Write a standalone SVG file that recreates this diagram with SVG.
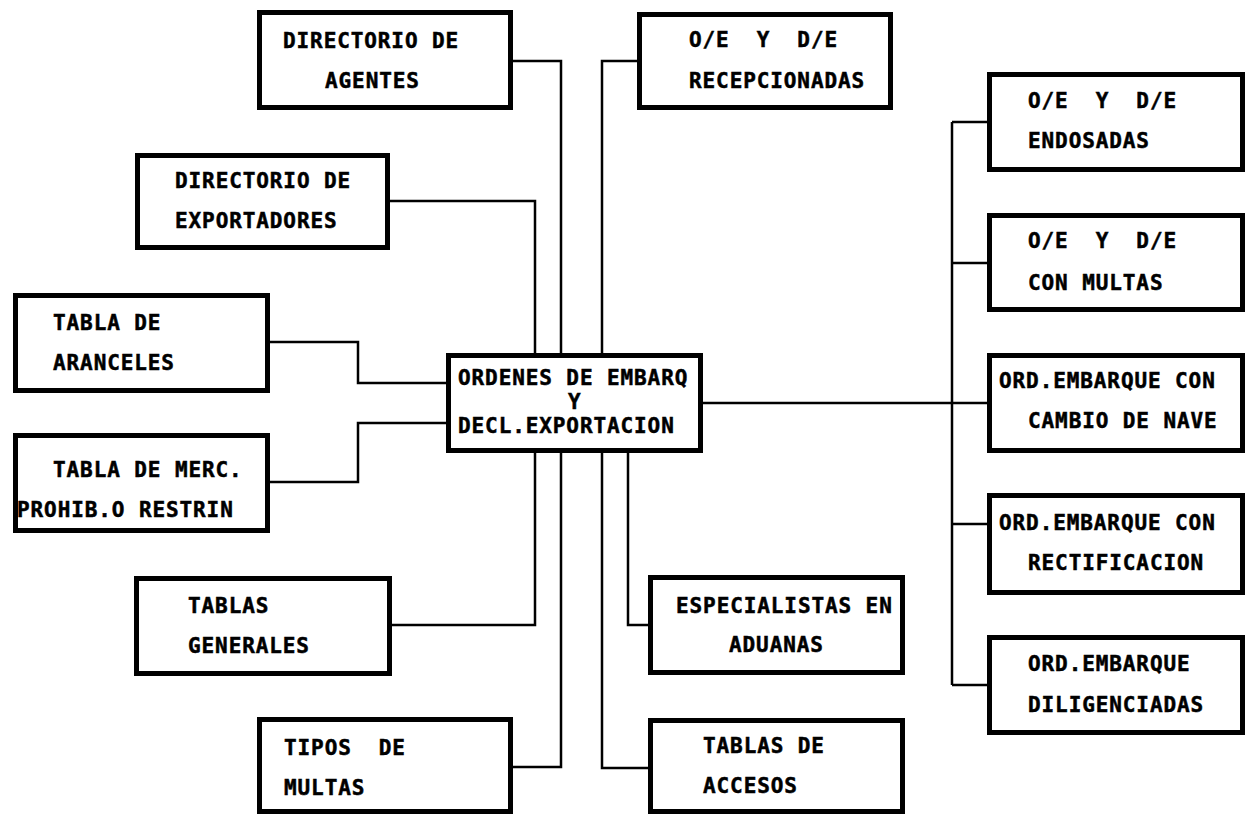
<svg xmlns="http://www.w3.org/2000/svg" width="1253" height="816" viewBox="0 0 1253 816">
<style>
.box{fill:#fff;stroke:#000;stroke-width:5}
.t{font-family:"DejaVu Sans Mono","Liberation Mono",monospace;font-weight:bold;font-size:21px;letter-spacing:0.9px;fill:#000;stroke:#000;stroke-width:0.5}
.c{fill:none;stroke:#000;stroke-width:2.5}
</style>
<rect width="1253" height="816" fill="#fff"/>
<g id="connectors">
<path class="c" d="M513 61 H561 V353"/>
<path class="c" d="M561 453 V767 H513"/>
<path class="c" d="M390 201 H535 V353"/>
<path class="c" d="M637 61 H602 V353"/>
<path class="c" d="M535 453 V625 H392"/>
<path class="c" d="M602 453 V768 H648"/>
<path class="c" d="M628 453 V625 H648"/>
<path class="c" d="M270 342 H358 V383 H446"/>
<path class="c" d="M446 423 H358 V482 H270"/>
<path class="c" d="M703 403 H987"/>
<path class="c" d="M952 122 V685"/>
<path class="c" d="M952 122 H987 M952 263 H987 M952 524 H987 M952 685 H987"/>
</g>
<g id="agentes"><rect class="box" x="259.5" y="12.5" width="251" height="95"/>
<text class="t" x="283" y="48">DIRECTORIO DE</text><text class="t" x="325" y="88">AGENTES</text></g>
<g id="recepcionadas"><rect class="box" x="639.5" y="14.5" width="251" height="93"/>
<text class="t" x="689" y="47" xml:space="preserve">O/E  Y  D/E</text><text class="t" x="689" y="88">RECEPCIONADAS</text></g>
<g id="exportadores"><rect class="box" x="137.5" y="155.5" width="250" height="92"/>
<text class="t" x="175" y="188">DIRECTORIO DE</text><text class="t" x="175" y="228">EXPORTADORES</text></g>
<g id="aranceles"><rect class="box" x="15.5" y="295.5" width="252" height="95"/>
<text class="t" x="53" y="330">TABLA DE</text><text class="t" x="53" y="370">ARANCELES</text></g>
<g id="mercancias"><rect class="box" x="15.5" y="435.5" width="252" height="95"/>
<text class="t" x="53" y="477">TABLA DE MERC.</text><text class="t" x="17" y="517">PROHIB.O RESTRIN</text></g>
<g id="generales"><rect class="box" x="136.5" y="578.5" width="253" height="95"/>
<text class="t" x="188" y="613">TABLAS</text><text class="t" x="188" y="653">GENERALES</text></g>
<g id="multas"><rect class="box" x="259.5" y="719.5" width="251" height="92"/>
<text class="t" x="284" y="755" xml:space="preserve">TIPOS  DE</text><text class="t" x="284" y="795">MULTAS</text></g>
<g id="ordenes"><rect class="box" x="448.5" y="355.5" width="252" height="95"/>
<text class="t" x="458" y="385">ORDENES DE EMBARQ</text><text class="t" x="568" y="409">Y</text><text class="t" x="458" y="433">DECL.EXPORTACION</text></g>
<g id="especialistas"><rect class="box" x="650.5" y="577.5" width="252" height="95"/>
<text class="t" x="676" y="613">ESPECIALISTAS EN</text><text class="t" x="729" y="652">ADUANAS</text></g>
<g id="accesos"><rect class="box" x="650.5" y="720.5" width="252" height="91"/>
<text class="t" x="703" y="753">TABLAS DE</text><text class="t" x="703" y="793">ACCESOS</text></g>
<g id="endosadas"><rect class="box" x="989.5" y="74.5" width="253" height="95"/>
<text class="t" x="1028" y="108" xml:space="preserve">O/E  Y  D/E</text><text class="t" x="1028" y="148">ENDOSADAS</text></g>
<g id="conmultas"><rect class="box" x="989.5" y="215.5" width="253" height="94"/>
<text class="t" x="1028" y="248" xml:space="preserve">O/E  Y  D/E</text><text class="t" x="1028" y="290">CON MULTAS</text></g>
<g id="cambionave"><rect class="box" x="989.5" y="355.5" width="253" height="95"/>
<text class="t" x="999" y="388">ORD.EMBARQUE CON</text><text class="t" x="1028" y="428">CAMBIO DE NAVE</text></g>
<g id="rectificacion"><rect class="box" x="989.5" y="495.5" width="253" height="97"/>
<text class="t" x="999" y="530">ORD.EMBARQUE CON</text><text class="t" x="1028" y="570">RECTIFICACION</text></g>
<g id="diligenciadas"><rect class="box" x="989.5" y="637.5" width="253" height="95"/>
<text class="t" x="1028" y="671">ORD.EMBARQUE</text><text class="t" x="1028" y="712">DILIGENCIADAS</text></g>
</svg>
